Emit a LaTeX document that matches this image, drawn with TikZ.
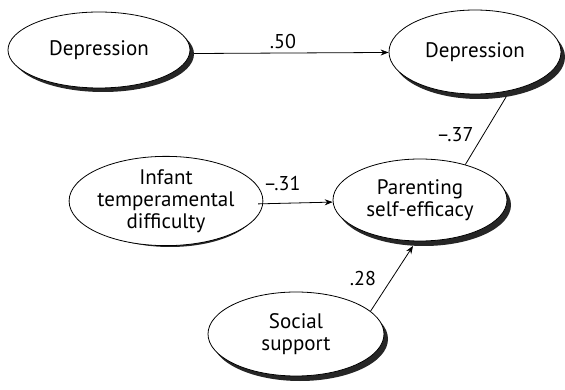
\documentclass[tikz,border=0pt]{standalone}
\usepackage{fontspec}
\setmainfont{PT Sans}
\usetikzlibrary{arrows.meta,shapes.geometric}
\begin{document}
\begin{tikzpicture}[x=1pt,y=-1pt,
  blob/.style={ellipse, draw=black, line width=0.8pt, fill=white, inner sep=0pt,
    align=center, font=\fontsize{21}{22}\selectfont},
  blobshade/.style={ellipse, fill=black!85, inner sep=0pt},
  link/.style={line width=0.8pt, -{Stealth[length=8pt,width=6pt]}},
  plainlink/.style={line width=0.8pt},
  coef/.style={inner sep=0pt, font=\fontsize{20}{22}\selectfont}
]
\useasboundingbox (0,0) rectangle (565,390);

% drop shadows, offset down and to the right
\node[blobshade, minimum width=182pt, minimum height=76pt] (dep1s) at (103,54) {};
\node[blobshade, minimum width=172pt, minimum height=84pt] (dep2s) at (479,57) {};
\node[blobshade, minimum width=176pt, minimum height=82pt] (infs) at (170,206) {};
\node[blobshade, minimum width=174pt, minimum height=82pt] (pars) at (424,205) {};
\node[blobshade, minimum width=176pt, minimum height=84pt] (socs) at (300,339) {};

% latent variables
\node[blob, minimum width=182pt, minimum height=76pt] (dep1) at (99,50) {Depression};
\node[blob, minimum width=172pt, minimum height=84pt] (dep2) at (475,52) {Depression};
\node[blob, minimum width=176pt, minimum height=82pt] (inf) at (166,201) {Infant\\temperamental\\difficulty};
\node[blob, minimum width=174pt, minimum height=82pt] (par) at (420,200) {Parenting\\self-efficacy};
\node[blob, minimum width=176pt, minimum height=84pt] (soc) at (296,334) {Social\\support};

% paths
\draw[link] (dep1s) -- (dep2);
\draw[link] (infs) -- (par);
\draw[link] (soc.17) -- (pars.-105);
\draw[plainlink] (par.38) -- (dep2s.-56);

% path coefficients
\node[coef] (c50) at (283,42) {.50};
\node[coef] (c31) at (282,184) {–.31};
\node[coef] (c37) at (455,135) {–.37};
\node[coef] (c28) at (363,278) {.28};
\end{tikzpicture}
\end{document}
